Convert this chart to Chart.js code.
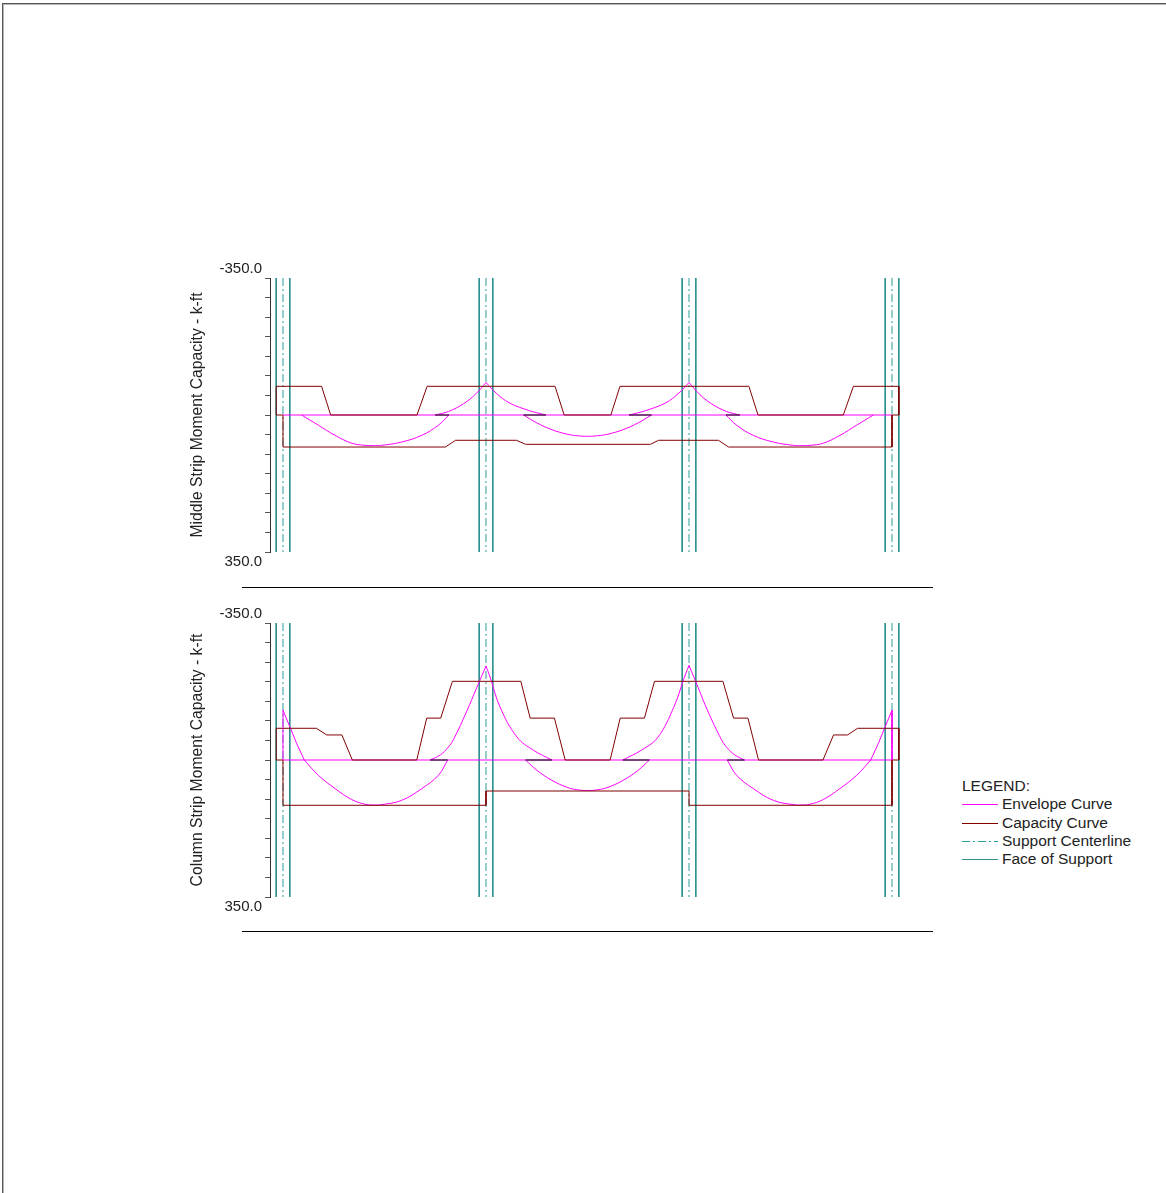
<!DOCTYPE html>
<html>
<head>
<meta charset="utf-8">
<script src="https://cdn.jsdelivr.net/npm/chart.js@4.4.1/dist/chart.umd.min.js"></script>
<style>
body{margin:0;background:#fff;font-family:"Liberation Sans",Arial,sans-serif;}
#page{position:relative;width:1166px;height:1193px;overflow:hidden;background:#fff;}
.frame{position:absolute;left:2px;top:3px;width:1200px;height:1220px;border-top:1px solid #555;border-left:1px solid #555;box-shadow:inset 1px 1px 0 #b5b5b5;}
.box{position:absolute;left:180px;width:730px;height:314px;}
#box1{top:258px;}
#box2{top:603px;}
.sep{position:absolute;left:242px;width:691px;height:1px;background:#000;}
#legend{position:absolute;left:962px;top:777px;font-size:15.5px;line-height:18.3px;color:#222;}
#legend .row{display:flex;align-items:center;height:18.3px;white-space:nowrap;}
#legend svg{margin-right:4px;}
</style>
</head>
<body>
<div id="page">
  <div class="frame"></div>
  <div class="box" id="box1"><canvas id="midChart" width="730" height="314"></canvas></div>
  <div class="sep" style="top:587px"></div>
  <div class="box" id="box2"><canvas id="colChart" width="730" height="314"></canvas></div>
  <div class="sep" style="top:931px"></div>
  <div id="legend"></div>
</div>
<script>
// distances along the strip in ft, moments in k-ft (negative = hogging, drawn upward)
const supportX = [0, 20, 40, 60];
const faceOffset = 0.67;
const yEnds = [-350, 350];

// ---- middle strip ----
const midCapacity = [[0,81.8],[0,0],[-0.67,0],[-0.67,-73.3],[3.8,-73.3],[4.7,0],[13.2,0],[14.2,-73.3],[26.8,-73.3],[27.7,0],
  [32.3,0],[33.2,-73.3],[45.9,-73.3],[46.8,0],[55.2,0],[56.2,-73.3],[60.67,-73.3],[60.67,0],[60,0],[60,81.8],
  [43.9,81.8],[42.9,64.6],[37.0,64.6],[36.2,74.9],[23.9,74.9],[23.0,64.6],[17.0,64.6],[16.0,81.8],[0,81.8]];
const midEnvZero = [[0,0],[60,0]];
const midEnvSpan1 = [[1.84,0],[3.48,26],[5.13,52],[6.77,72],[8.08,77.5],[8.9,78],[9.73,77.5],[11.7,69],[13.67,52],[15.31,26],[16.36,0]];
const midEnvSup2L = [[15.0,0],[16.3,-9],[17.8,-29],[19.0,-54],[20,-83]];
const midEnvSup2R = [[20,-83],[21.0,-56],[22.3,-31],[24.3,-11],[25.9,0]];
const midEnvSpan2 = [[23.69,0],[25,20],[26.5,37.6],[28,49],[29,53],[30,54.4],[31,53],[32,49],[33.5,37.6],[35,20],[36.31,0]];
const midEnvSup3L = [[34.1,0],[35.7,-11],[37.7,-31],[39.0,-56],[40,-83]];
const midEnvSup3R = [[40,-83],[41.0,-54],[42.2,-29],[43.7,-9],[45.0,0]];
const midEnvSpan3 = [[43.64,0],[44.69,26],[46.33,52],[48.3,69],[50.27,77.5],[51.1,78],[51.92,77.5],[53.23,72],[54.87,52],[56.52,26],[58.16,0]];
const midOverlap = [[[15.0,0],[16.36,0]],[[23.69,0],[25.9,0]],[[34.1,0],[36.31,0]],[[43.64,0],[45.0,0]]];

// ---- column strip ----
const colCapacity = [[0,115.7],[0,0],[-0.67,0],[-0.67,-81],[3.3,-81],[4.3,-64],[5.8,-64],[6.83,0],[13.18,0],[14.16,-107],
  [15.54,-107],[16.69,-201],[23.43,-201],[24.35,-107],[26.74,-107],[27.8,0],[32.23,0],[33.22,-107],[35.61,-107],
  [36.6,-201],[43.34,-201],[44.39,-107],[45.81,-107],[46.85,0],[53.2,0],[54.24,-64],[55.62,-64],[56.61,-81],
  [60.67,-81],[60.67,0],[60,0],[60,115.7],[40,115.7],[40,79.2],[20,79.2],[20,115.7],[0,115.7]];
const colEnvZero = [[0,0],[60,0]];
const colEnvEnd1 = [[0,0],[0,-127],[0.69,-84],[1.35,-42],[2.1,0]];
const colEnvSpan1 = [[2.1,0],[3.48,39],[5.13,73],[6.77,101],[8.08,113],[8.9,115],[9.73,114],[11.7,103],[13.67,73],[15.31,39],[16.23,0]];
const colEnvSup2L = [[14.49,0],[15.5,-13],[16.29,-33],[16.79,-52],[18.11,-125],[19.09,-185],[20,-240]];
const colEnvSup2R = [[20,-240],[20.4,-212],[21.39,-135],[23.04,-59],[24.67,-25],[26.49,0]];
const colEnvSpan2 = [[23.9,0],[25,26],[26.5,52],[28,70],[29,76],[30,78],[31,76],[32,70],[33.5,52],[35,26],[36.1,0]];
const colEnvSup3L = [[33.48,0],[35.3,-25],[36.9,-57],[38.5,-135],[39.5,-208],[40,-242]];
const colEnvSup3R = [[40,-242],[40.9,-185],[41.85,-125],[43.2,-52],[43.7,-33],[44.5,-13],[45.47,0]];
const colEnvSpan3 = [[43.77,0],[44.69,39],[46.33,73],[48.3,103],[50.27,114],[51.1,115],[51.92,113],[53.23,101],[54.87,73],[56.52,39],[57.9,0]];
const colEnvEnd2 = [[57.9,0],[58.65,-42],[59.31,-84],[60,-127],[60,0]];
const colOverlap = [[[14.49,0],[16.23,0]],[[23.9,0],[26.49,0]],[[33.48,0],[36.1,0]],[[43.77,0],[45.47,0]]];

const legendItems = [
  {label: 'Envelope Curve', color: '#ff00ff', dash: ''},
  {label: 'Capacity Curve', color: '#800000', dash: ''},
  {label: 'Support Centerline', color: '#2a9a9a', dash: '8 3 2 3'},
  {label: 'Face of Support', color: '#2a8f8f', dash: ''}
];

// join polyline pieces with null gaps so one dataset can hold them all
function joinPieces(pieces) {
  const out = [];
  pieces.forEach((p, i) => {
    if (i) out.push({x: p[0][0], y: null});
    p.forEach(([x, y]) => out.push({x: x, y: y}));
  });
  return out;
}

function verticals(xs) {
  return joinPieces(xs.map(x => [[x, yEnds[0]], [x, yEnds[1]]]));
}

const centerPts = verticals(supportX);
const facePts = verticals(supportX.flatMap(x => [x - faceOffset, x + faceOffset]));

const endLabels = {
  id: 'endLabels',
  afterDraw(chart) {
    const s = chart.scales.y, ctx = chart.ctx;
    ctx.save();
    ctx.font = '15px "Liberation Sans", Arial, sans-serif';
    ctx.fillStyle = '#222';
    ctx.textAlign = 'right';
    ctx.textBaseline = 'middle';
    yEnds.forEach((v, i) => {
      const y = s.getPixelForValue(v) + (i === 0 ? -9 : 10);
      ctx.fillText(v.toFixed(1), s.right - 8, y);
    });
    ctx.restore();
  }
};

function line(data, color, extra) {
  return Object.assign({
    data: data, borderColor: color, backgroundColor: color, borderWidth: 1,
    showLine: true, pointRadius: 0, spanGaps: false, tension: 0
  }, extra || {});
}

function makeChart(id, title, capacity, straight, curves, overlap) {
  return new Chart(document.getElementById(id), {
    type: 'scatter',
    data: {
      datasets: [
        line(joinPieces(overlap), '#000000'),
        line(joinPieces([capacity]), '#800000'),
        line(joinPieces(straight), '#ff00ff'),
        line(joinPieces(curves), '#ff00ff', {tension: 0.4}),
        line(centerPts, '#2a9a9a', {borderDash: [8, 3, 2, 3]}),
        line(facePts, '#2a8f8f')
      ]
    },
    options: {
      responsive: false,
      animation: false,
      events: [],
      layout: {padding: {top: 20, bottom: 20, left: 0, right: 5}},
      plugins: {legend: {display: false}, tooltip: {enabled: false}},
      scales: {
        x: {type: 'linear', display: false, min: -1.28, max: 61.28},
        y: {
          type: 'linear', min: yEnds[0], max: yEnds[1], reverse: true,
          afterFit(scale) { scale.width = 90; },
          ticks: {stepSize: 50, display: false},
          grid: {drawOnChartArea: false, drawTicks: true, tickLength: 5, color: '#555'},
          border: {display: true, color: '#333'},
          title: {
            display: true, text: title, color: '#222',
            font: {family: '"Liberation Sans", Arial, sans-serif', size: 15.7},
            padding: {top: 8, bottom: 0}
          }
        }
      }
    },
    plugins: [endLabels]
  });
}

makeChart('midChart', 'Middle Strip Moment Capacity - k-ft', midCapacity,
  [midEnvZero],
  [midEnvSpan1, midEnvSup2L, midEnvSup2R, midEnvSpan2, midEnvSup3L, midEnvSup3R, midEnvSpan3], midOverlap);
makeChart('colChart', 'Column Strip Moment Capacity - k-ft', colCapacity,
  [colEnvZero, colEnvEnd1, colEnvEnd2],
  [colEnvSpan1, colEnvSup2L, colEnvSup2R, colEnvSpan2, colEnvSup3L, colEnvSup3R, colEnvSpan3], colOverlap);

// legend
const lg = document.getElementById('legend');
let html = '<div class="row">LEGEND:</div>';
legendItems.forEach(it => {
  html += '<div class="row"><svg width="36" height="10"><line x1="0" y1="5.5" x2="36" y2="5.5" stroke="' + it.color +
    '" stroke-width="1"' + (it.dash ? ' stroke-dasharray="' + it.dash + '"' : '') + '/></svg>' + it.label + '</div>';
});
lg.innerHTML = html;
</script>
</body>
</html>
